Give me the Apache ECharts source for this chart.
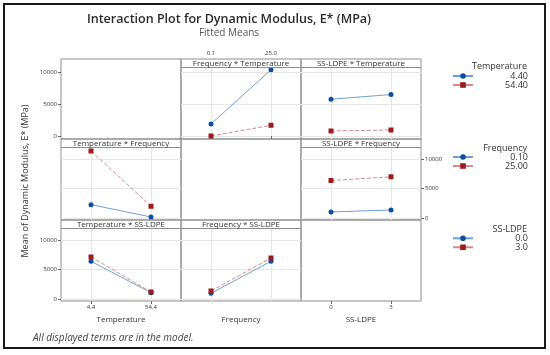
<!DOCTYPE html>
<html><head><meta charset="utf-8">
<script src="https://cdn.jsdelivr.net/npm/echarts@6/dist/echarts.min.js"></script>
<style>html,body{margin:0;padding:0;background:#fff}#c{width:550px;height:355px}</style>
</head><body><div id="c"></div>
<script>
// ---- data ----
const temperatureLevels = ['4.4', '54.4'];
const frequencyLevels = ['0.1', '25.0'];
const ssldpeLevels = ['0', '3'];
const temperatureLegend = ['4.40', '54.40'];
const frequencyLegend = ['0.10', '25.00'];
const ssldpeLegend = ['0.0', '3.0'];
const yTickStep = 5000;
const yTickMax = 10000;

// Row 1: traced by Temperature
const freqByTemp_T44 = [1950, 10390];
const freqByTemp_T544 = [80, 1750];
const ssByTemp_T44 = [5810, 6530];
const ssByTemp_T544 = [860, 1015];
// Row 2: traced by Frequency
const tempByFreq_F01 = [2300, 220];
const tempByFreq_F25 = [11350, 2030];
const ssByFreq_F01 = [1070, 1400];
const ssByFreq_F25 = [6370, 7000];
// Row 3: traced by SS-LDPE
const tempBySS_S0 = [6390, 1070];
const tempBySS_S3 = [7120, 1190];
const freqBySS_S0 = [970, 6390];
const freqBySS_S3 = [1360, 6950];

// ---- layout ----
const FONT = 'Open Sans, sans-serif';
const colX = [61, 181, 301], colW = 120;
const rowTop = [59, 139, 220], rowBot = [139, 220, 301];
const stripH = 8;
const rowZero = [136.5, 218.3, 299];
const rowTenK = [72.3, 159, 240];

const factors = [
  {name: 'Temperature', levels: temperatureLevels},
  {name: 'Frequency', levels: frequencyLevels},
  {name: 'SS-LDPE', levels: ssldpeLevels}
];
const legendNames = [temperatureLegend, frequencyLegend, ssldpeLegend];
const panels = [
  [null, [freqByTemp_T44, freqByTemp_T544], [ssByTemp_T44, ssByTemp_T544]],
  [[tempByFreq_F01, tempByFreq_F25], null, [ssByFreq_F01, ssByFreq_F25]],
  [[tempBySS_S0, tempBySS_S3], [freqBySS_S0, freqBySS_S3], null]
];
const styles = [
  {symbol: 'circle', mark: '#0c4ea2', line: '#6f9fd8', type: 'solid'},
  {symbol: 'rect', mark: '#9b1c1f', line: '#d88a8a', type: 'dashed'}
];
const xLabelPos = {'0,1': 'top', '2,0': 'bottom', '2,2': 'bottom'};
const yLabelPos = {'0,0': 'left', '1,2': 'right', '2,0': 'left'};

const grid = [], xAxis = [], yAxis = [], series = [], graphic = [];
const labelStyle = {fontSize: 6, color: '#333', fontFamily: FONT};

function addGrid(g, xa, ya) {
  grid.push(g); const i = grid.length - 1;
  xa.gridIndex = i; ya.gridIndex = i;
  xAxis.push(xa); yAxis.push(ya);
  return i;
}

for (let r = 0; r < 3; r++) {
  for (let c = 0; c < 3; c++) {
    const key = r + ',' + c;
    const diag = r === c;
    const cats = factors[c].levels;
    const xp = xLabelPos[key];
    addGrid(
      {left: colX[c], width: colW, top: rowTop[r], height: rowBot[r] - rowTop[r],
       show: true, borderColor: '#8e8e8e', borderWidth: 1, backgroundColor: 'transparent'},
      {type: 'category', data: cats, boundaryGap: true, position: xp || 'bottom',
       axisLine: {show: false}, splitLine: {show: false},
       axisTick: {show: !!xp, alignWithLabel: true, length: 3, lineStyle: {color: '#666'}},
       axisLabel: Object.assign({show: !!xp, margin: 3}, labelStyle)},
      {type: 'value', show: false}
    );
    const top = diag ? rowTop[r] : rowTop[r] + stripH;
    if (!diag) {
      addGrid(
        {left: colX[c], width: colW, top: top, height: rowBot[r] - top},
        {type: 'category', data: cats, boundaryGap: true,
         axisLine: {show: false}, axisTick: {show: false}, axisLabel: {show: false},
         splitLine: {show: true, alignWithLabel: true, lineStyle: {color: '#e6e6e6', width: 1}}},
        {type: 'value', show: false}
      );
    }
    const yp = yLabelPos[key];
    const gi = addGrid(
      {left: colX[c], width: colW, top: rowTenK[r], height: rowZero[r] - rowTenK[r]},
      {type: 'category', data: cats, boundaryGap: true, show: false},
      {type: 'value', min: 0, max: yTickMax, interval: yTickStep, position: yp || 'left',
       axisLine: {show: false},
       axisTick: {show: !!yp, length: 3, lineStyle: {color: '#666'}},
       axisLabel: Object.assign({show: !!yp, margin: 4, formatter: v => String(v)}, labelStyle),
       splitLine: {show: !diag, lineStyle: {color: '#e6e6e6', width: 1}}}
    );
    if (!diag) {
      panels[r][c].forEach((vals, k) => {
        const s = styles[k];
        series.push({
          type: 'line', name: legendNames[r][k], xAxisIndex: gi, yAxisIndex: gi,
          data: vals, clip: false, symbol: s.symbol, symbolSize: 5,
          itemStyle: {color: s.mark},
          lineStyle: {color: s.line, width: 1, type: s.type},
          z: 3 + k, animation: false
        });
      });
      graphic.push({type: 'line', shape: {x1: colX[c], y1: rowTop[r] + stripH + 0.5, x2: colX[c] + colW, y2: rowTop[r] + stripH + 0.5},
        style: {stroke: '#8e8e8e', lineWidth: 1}, z: 10});
      graphic.push({type: 'text', x: colX[c] + colW / 2, y: rowTop[r] + stripH / 2 + 0.5,
        style: {text: factors[c].name + ' * ' + factors[r].name, fontSize: 8, fontFamily: FONT, fill: '#333',
        textAlign: 'center', textVerticalAlign: 'middle'}, z: 10});
    }
  }
}

factors.forEach((f, c) => {
  graphic.push({type: 'text', x: colX[c] + colW / 2, y: 320,
    style: {text: f.name, fontSize: 8, fontFamily: FONT, fill: '#333', textAlign: 'center', textVerticalAlign: 'middle'}});
});
graphic.push({type: 'text', x: 25, y: 181, rotation: Math.PI / 2,
  style: {text: 'Mean of Dynamic Modulus, E* (MPa)', fontSize: 9, fontFamily: FONT, fill: '#333', textAlign: 'center', textVerticalAlign: 'middle'}});
graphic.push({type: 'text', x: 229, y: 19,
  style: {text: 'Interaction Plot for Dynamic Modulus, E* (MPa)', fontSize: 12.5, fontWeight: 600, fontFamily: FONT, fill: '#2b2b2b', textAlign: 'center', textVerticalAlign: 'middle'}});
graphic.push({type: 'text', x: 229, y: 33,
  style: {text: 'Fitted Means', fontSize: 10, fontFamily: FONT, fill: '#555', textAlign: 'center', textVerticalAlign: 'middle'}});
graphic.push({type: 'text', x: 33, y: 338,
  style: {text: 'All displayed terms are in the model.', fontSize: 10, fontStyle: 'italic', fontFamily: FONT, fill: '#444', textAlign: 'left', textVerticalAlign: 'middle'}});
const legendTitleY = [66, 148.3, 229];
const legendTop = [71.5, 152.5, 233.8];
factors.forEach((f, i) => {
  graphic.push({type: 'text', x: 527, y: legendTitleY[i],
    style: {text: f.name, fontSize: 9, fontFamily: FONT, fill: '#333', textAlign: 'right', textVerticalAlign: 'middle'}});
});
graphic.push({type: 'rect', shape: {x: 4, y: 4, width: 541, height: 344}, style: {fill: 'none', stroke: '#1a1a1a', lineWidth: 2}, z: 20});

const legend = legendNames.map((names, i) => ({
  data: names, orient: 'vertical', left: 452, top: legendTop[i], padding: 0,
  itemWidth: 20, itemHeight: 7, itemGap: 0, selectedMode: false,
  formatter: '{r|{name}}',
  textStyle: {fontSize: 9, fontFamily: FONT, color: '#333',
    rich: {r: {width: 50, align: 'right', fontSize: 9, lineHeight: 9, fontFamily: FONT, color: '#333'}}}
}));

const chart = echarts.init(document.getElementById('c'), null, {renderer: 'canvas'});
chart.setOption({
  animation: false, backgroundColor: '#fff',
  grid, xAxis, yAxis, series, legend, graphic
});
</script></body></html>
